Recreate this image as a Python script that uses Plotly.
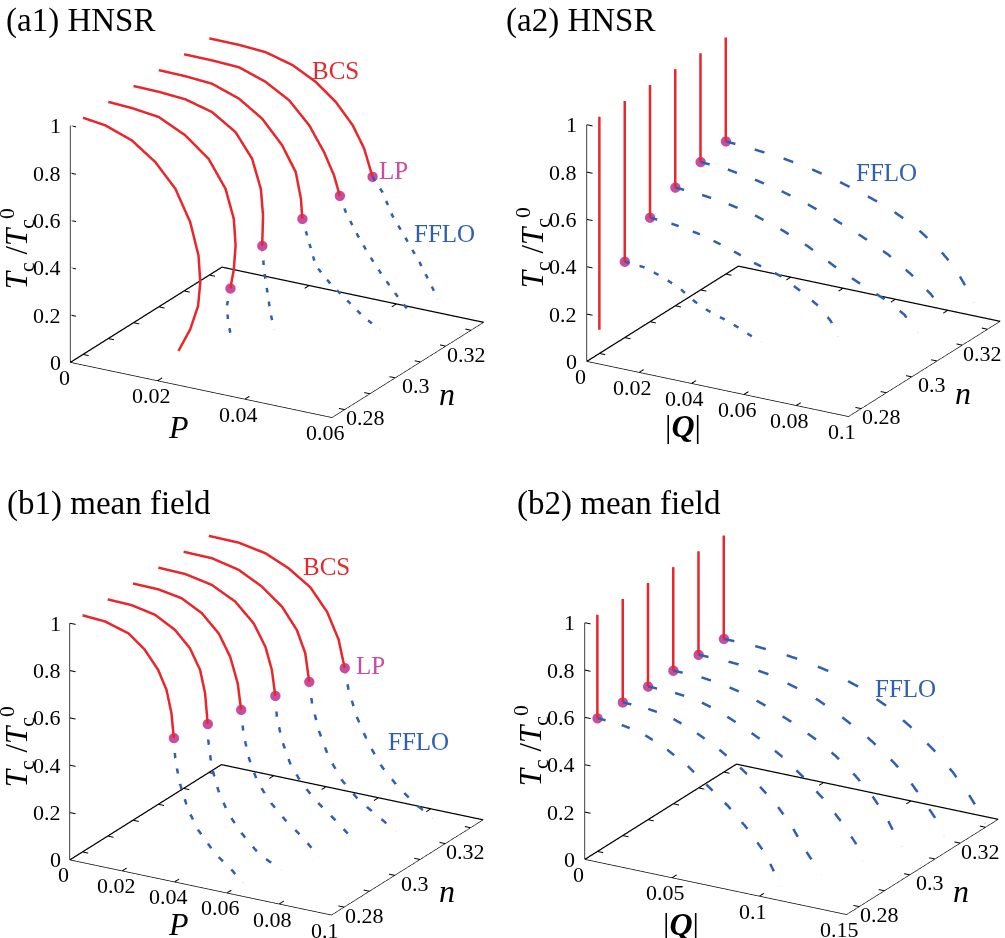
import numpy as np
import plotly.graph_objects as go

RED = '#e8262b'
BLUE = '#2f5fb0'
PINK = '#c84c9f'
SERIF = 'Liberation Serif, Times New Roman, serif'

# density of each curve, shared by all four panels
n_vals = [0.28, 0.29, 0.30, 0.31, 0.32, 0.33]
n_range = [0.275, 0.335]
n_ticks = [0.28, 0.30, 0.32]
n_ticktext = ['0.28', '0.3', '0.32']
n_minor = [0.28, 0.29, 0.30, 0.31, 0.32, 0.33]
tc_ticks = [0, 0.2, 0.4, 0.6, 0.8, 1]
tc_ticktext = ['0', '0.2', '0.4', '0.6', '0.8', '1']

# ---------------- (a1) HNSR : Tc/Tc0 vs P ----------------
a1_bcs_P = [
    [0, 0.0051, 0.0112, 0.0166, 0.0212, 0.0246, 0.0265, 0.0269, 0.0264, 0.0246, 0.0219],
    [0, 0.0054, 0.0116, 0.0177, 0.0230, 0.0269, 0.0288, 0.0292, 0.0288, 0.0280],
    [0, 0.0058, 0.0119, 0.0180, 0.0234, 0.0272, 0.0292, 0.0297, 0.0295],
    [0, 0.0061, 0.0122, 0.0184, 0.0237, 0.0283, 0.0314, 0.0326, 0.0329],
    [0, 0.0065, 0.0126, 0.0187, 0.0241, 0.0287, 0.0321, 0.0344, 0.0357],
    [0, 0.0068, 0.0129, 0.0191, 0.0244, 0.0290, 0.0329, 0.0355, 0.0374],
]
a1_bcs_T = [
    [1.0, 0.988, 0.948, 0.877, 0.782, 0.654, 0.520, 0.409, 0.308, 0.202, 0.100],
    [1.0, 0.995, 0.981, 0.927, 0.849, 0.737, 0.617, 0.506, 0.405, 0.321],
    [1.0, 0.998, 0.990, 0.960, 0.896, 0.798, 0.678, 0.567, 0.440],
    [1.0, 0.998, 0.990, 0.951, 0.887, 0.792, 0.691, 0.582, 0.500],
    [1.0, 0.999, 0.994, 0.956, 0.899, 0.811, 0.711, 0.621, 0.541],
    [1.0, 0.999, 0.992, 0.961, 0.911, 0.844, 0.760, 0.672, 0.561],
]
a1_fflo_P = [
    [],
    [0.0280, 0.0272, 0.0275, 0.0284],
    [0.0295, 0.0299, 0.0307, 0.0314, 0.0322],
    [0.0329, 0.0349, 0.0360, 0.0391, 0.0429, 0.0467, 0.0506],
    [0.0357, 0.0371, 0.0394, 0.0425, 0.0455, 0.0494, 0.0524],
    [0.0374, 0.0397, 0.0420, 0.0451, 0.0482, 0.0513, 0.0524],
]
a1_fflo_T = [
    [],
    [0.321, 0.244, 0.174, 0.100],
    [0.440, 0.342, 0.247, 0.165, 0.097],
    [0.500, 0.379, 0.313, 0.255, 0.199, 0.143, 0.101],
    [0.541, 0.476, 0.401, 0.314, 0.241, 0.157, 0.098],
    [0.561, 0.504, 0.413, 0.328, 0.241, 0.139, 0.102],
]

# ---------------- (a2) HNSR : Tc/Tc0 vs |Q| ----------------
a2_bcs_Q = [0, 0]
a2_bcs_T = [[0.100, 1.0], [0.321, 1.0], [0.440, 1.0], [0.500, 1.0], [0.541, 1.0], [0.561, 1.0]]
a2_fflo_Q = [
    [],
    [0, 0.0075, 0.0151, 0.0217, 0.0267, 0.0318, 0.0407, 0.0520],
    [0, 0.0093, 0.0195, 0.0297, 0.0399, 0.0500, 0.0576, 0.0653, 0.0691, 0.0719],
    [0, 0.0099, 0.0200, 0.0302, 0.0404, 0.0506, 0.0608, 0.0710, 0.0811, 0.0875, 0.0926],
    [0, 0.0105, 0.0206, 0.0308, 0.0410, 0.0512, 0.0614, 0.0716, 0.0805, 0.0881, 0.0932],
    [0, 0.0110, 0.0212, 0.0314, 0.0416, 0.0518, 0.0620, 0.0721, 0.0810, 0.0874, 0.0912, 0.0948],
]
a2_fflo_T = [
    [],
    [0.321, 0.314, 0.287, 0.252, 0.215, 0.188, 0.156, 0.102],
    [0.440, 0.432, 0.413, 0.381, 0.341, 0.309, 0.263, 0.210, 0.163, 0.106],
    [0.500, 0.493, 0.478, 0.454, 0.417, 0.370, 0.309, 0.256, 0.209, 0.167, 0.102],
    [0.541, 0.533, 0.515, 0.490, 0.457, 0.417, 0.371, 0.317, 0.253, 0.186, 0.120],
    [0.561, 0.552, 0.541, 0.523, 0.497, 0.464, 0.425, 0.371, 0.300, 0.232, 0.169, 0.100],
]

# ---------------- (b1) mean field : Tc/Tc0 vs P ----------------
b1_bcs_P = [
    [0, 0.0086, 0.0175, 0.0238, 0.0289, 0.0321, 0.0340, 0.0349],
    [0, 0.0091, 0.0181, 0.0257, 0.0314, 0.0353, 0.0372, 0.0382],
    [0, 0.0097, 0.0186, 0.0263, 0.0327, 0.0371, 0.0400, 0.0413],
    [0, 0.0103, 0.0204, 0.0294, 0.0364, 0.0409, 0.0434, 0.0447],
    [0, 0.0108, 0.0210, 0.0299, 0.0376, 0.0433, 0.0465, 0.0480],
    [0, 0.0114, 0.0216, 0.0305, 0.0388, 0.0452, 0.0496, 0.0519],
]
b1_bcs_T = [
    [1.0, 0.994, 0.965, 0.910, 0.837, 0.760, 0.666, 0.563],
    [1.0, 0.997, 0.977, 0.931, 0.867, 0.784, 0.690, 0.563],
    [1.0, 0.998, 0.981, 0.936, 0.866, 0.778, 0.672, 0.563],
    [1.0, 0.997, 0.975, 0.925, 0.850, 0.762, 0.669, 0.563],
    [1.0, 0.998, 0.973, 0.923, 0.856, 0.770, 0.680, 0.563],
    [1.0, 0.998, 0.977, 0.934, 0.873, 0.784, 0.677, 0.563],
]
b1_fflo_P = [
    [0.0349, 0.0355, 0.0372, 0.0404, 0.0442, 0.0506, 0.0570, 0.0614],
    [0.0382, 0.0384, 0.0397, 0.0422, 0.0460, 0.0512, 0.0576, 0.0662],
    [0.0413, 0.0422, 0.0441, 0.0473, 0.0518, 0.0582, 0.0646, 0.0712],
    [0.0447, 0.0453, 0.0472, 0.0504, 0.0548, 0.0612, 0.0676, 0.0756],
    [0.0480, 0.0491, 0.0516, 0.0554, 0.0605, 0.0669, 0.0745, 0.0812],
    [0.0519, 0.0534, 0.0565, 0.0610, 0.0661, 0.0723, 0.0786, 0.0856],
]
b1_fflo_T = [
    [0.563, 0.471, 0.377, 0.271, 0.196, 0.112, 0.057, 0.013],
    [0.563, 0.496, 0.386, 0.293, 0.203, 0.131, 0.061, 0.011],
    [0.563, 0.466, 0.371, 0.280, 0.206, 0.136, 0.080, 0.011],
    [0.563, 0.476, 0.382, 0.290, 0.216, 0.147, 0.091, 0.015],
    [0.563, 0.474, 0.367, 0.263, 0.176, 0.107, 0.054, 0.008],
    [0.563, 0.473, 0.368, 0.265, 0.179, 0.108, 0.053, 0.008],
]

# ---------------- (b2) mean field : Tc/Tc0 vs |Q| ----------------
b2_bcs_Q = [0, 0]
b2_bcs_T = [[0.563, 1.0]] * 6
b2_fflo_Q = [
    [0, 0.0116, 0.0250, 0.0384, 0.0518, 0.0633, 0.0749, 0.0863, 0.0959, 0.1016, 0.1045],
    [0, 0.0125, 0.0260, 0.0394, 0.0528, 0.0643, 0.0758, 0.0872, 0.0968, 0.1045, 0.1137],
    [0, 0.0135, 0.0269, 0.0404, 0.0537, 0.0671, 0.0786, 0.0902, 0.1016, 0.1112, 0.1189, 0.1227],
    [0, 0.0145, 0.0279, 0.0413, 0.0547, 0.0681, 0.0815, 0.0930, 0.1045, 0.1141, 0.1217, 0.1275, 0.1307],
    [0, 0.0154, 0.0288, 0.0422, 0.0557, 0.0691, 0.0825, 0.0959, 0.1074, 0.1189, 0.1284, 0.1361, 0.1409],
    [0, 0.0164, 0.0317, 0.0470, 0.0624, 0.0777, 0.0930, 0.1064, 0.1199, 0.1313, 0.1409, 0.1467, 0.1498],
]
b2_fflo_T = [
    [0.563, 0.559, 0.541, 0.499, 0.441, 0.375, 0.308, 0.227, 0.143, 0.067, 0.015],
    [0.563, 0.560, 0.546, 0.510, 0.461, 0.408, 0.346, 0.275, 0.191, 0.103, 0.013],
    [0.563, 0.561, 0.551, 0.522, 0.479, 0.430, 0.378, 0.311, 0.237, 0.160, 0.087, 0.015],
    [0.563, 0.561, 0.549, 0.527, 0.492, 0.450, 0.400, 0.347, 0.280, 0.210, 0.138, 0.062, 0.022],
    [0.563, 0.561, 0.555, 0.540, 0.511, 0.476, 0.426, 0.369, 0.310, 0.236, 0.152, 0.079, 0.016],
    [0.563, 0.561, 0.553, 0.540, 0.516, 0.479, 0.425, 0.361, 0.283, 0.203, 0.118, 0.057, 0.017],
]

# ------------- camera: orthographic view, floor seen from the front-right -------------
eye_dir = np.array([0.467, -0.806, 0.364])
eye_dir = eye_dir / np.linalg.norm(eye_dir)
right = np.cross(-eye_dir, [0, 0, 1])
right = right / np.linalg.norm(right)
upv = np.cross(right, -eye_dir)
PX_PER_UNIT = 234.5   # half the scene height is one unit in ortho mode
ASPECT = 1.29


def camera(dx, dy):
    # dx, dy: wanted pixel offset of the box centre from the domain centre
    c = (-dx * right + dy * upv) / PX_PER_UNIT
    e = c + eye_dir * 2.0
    return dict(projection=dict(type='orthographic'),
                up=dict(x=0, y=0, z=1),
                center=dict(x=c[0], y=c[1], z=c[2]),
                eye=dict(x=e[0], y=e[1], z=e[2]))


def axis(rng):
    return dict(range=rng, autorange=False, showticklabels=False, ticks='',
                title=dict(text=''),
                showgrid=False, zeroline=False, showbackground=False, showspikes=False,
                showline=True, linecolor='black', linewidth=1.5)


def text3d(x, y, z, text, color='black', size=22, xs=0, ys=0, xa='center', angle=0):
    return dict(x=x, y=y, z=z, text=text, showarrow=False, xanchor=xa, yanchor='middle',
                xshift=xs, yshift=ys, textangle=angle,
                font=dict(family=SERIF, size=size, color=color))


def tick_labels(xticks, xtext, xrange, xtitle, title_shift):
    out = []
    for v, t in zip(xticks, xtext):
        out.append(text3d(v, n_range[0], 0, t, xs=-6, ys=-15))
    for v, t in zip(n_ticks, n_ticktext):
        out.append(text3d(xrange[1], v, 0, t, xs=21, ys=-8))
    for v, t in zip(tc_ticks, tc_ticktext):
        out.append(text3d(0, n_range[0], v, t, xs=-7, xa='right'))
    mid = 0.5 * (xrange[0] + xrange[1])
    out.append(text3d(mid, n_range[0], 0, xtitle, size=32, xs=title_shift, ys=-37))
    out.append(text3d(xrange[1], 0.5 * (n_range[0] + n_range[1]), 0, '<i>n</i>', size=32, xs=40, ys=-24))
    out.append(text3d(0, n_range[0], 0.5, '<i>T</i><sub>c</sub> /<i>T</i><sub>c</sub><sup>0</sup>',
                      size=31, xs=-53, ys=-5, angle=-90))
    return out


fig = go.Figure()


def add_curves(scene, bcs_x, bcs_t, fflo_x, fflo_t, groups, vertical_bcs=False):
    for i, n in enumerate(n_vals):
        if vertical_bcs:
            bx, bt = bcs_x, bcs_t[i]
        else:
            bx, bt = bcs_x[i], bcs_t[i]
        fig.add_trace(go.Scatter3d(x=bx, y=[n] * len(bx), z=bt, mode='lines', scene=scene,
                                   line=dict(color=RED, width=5), hoverinfo='skip'))
        if len(fflo_x[i]) > 0:
            fig.add_trace(go.Scatter3d(x=[fflo_x[i][0]], y=[n], z=[fflo_t[i][0]],
                                       mode='markers', scene=scene,
                                       marker=dict(color=PINK, size=6, line=dict(width=0)),
                                       hoverinfo='skip'))
    # dashed FFLO branches; short ones share a trace so the dash pattern is not squeezed
    for g in groups:
        gx, gy, gz = [], [], []
        for i in g:
            if gx:
                gx.append(None)
                gy.append(None)
                gz.append(None)
            gx += fflo_x[i]
            gy += [n_vals[i]] * len(fflo_x[i])
            gz += fflo_t[i]
        fig.add_trace(go.Scatter3d(x=gx, y=gy, z=gz, mode='lines', scene=scene,
                                   line=dict(color=BLUE, width=5, dash='longdash'),
                                   hoverinfo='skip'))


def add_frame(scene, xmax, xticks):
    # back edges of the floor (kept a hair inside the box) and small tick marks
    eps = 1e-5
    fig.add_trace(go.Scatter3d(x=[eps, eps, xmax - eps], y=[n_range[0], n_range[1] - eps, n_range[1] - eps],
                               z=[0, 0, 0], mode='lines', scene=scene,
                               line=dict(color='black', width=2.5), hoverinfo='skip'))
    tl_x = 0.022 * xmax
    tl_n = 0.03 * (n_range[1] - n_range[0])
    tx, ty, tz = [], [], []
    for v in n_minor:
        tx += [eps, tl_x, None, xmax - eps, xmax - tl_x, None]
        ty += [v, v, None, v, v, None]
        tz += [0, 0, None, 0, 0, None]
    for v in xticks[1:-1]:
        tx += [v, v, None, v, v, None]
        ty += [n_range[0], n_range[0] + tl_n, None, n_range[1] - eps, n_range[1] - tl_n, None]
        tz += [0, 0, None, 0, 0, None]
    for v in tc_ticks[1:]:
        tx += [eps, tl_x, None]
        ty += [n_range[0], n_range[0], None]
        tz += [v, v, None]
    fig.add_trace(go.Scatter3d(x=tx, y=ty, z=tz, mode='lines', scene=scene,
                               line=dict(color='black', width=2), hoverinfo='skip'))


a1_xticks = [0, 0.02, 0.04, 0.06]
a2_xticks = [0, 0.02, 0.04, 0.06, 0.08, 0.1]
b1_xticks = [0, 0.02, 0.04, 0.06, 0.08, 0.1]
b2_xticks = [0, 0.05, 0.1, 0.15]
single = [[1], [2], [3], [4], [5]]

add_curves('scene', a1_bcs_P, a1_bcs_T, a1_fflo_P, a1_fflo_T, [[1, 2], [3], [4], [5]])
add_frame('scene', 0.06, a1_xticks)
add_curves('scene2', a2_bcs_Q, a2_bcs_T, a2_fflo_Q, a2_fflo_T, single, vertical_bcs=True)
add_frame('scene2', 0.1, a2_xticks)
add_curves('scene3', b1_bcs_P, b1_bcs_T, b1_fflo_P, b1_fflo_T, [[0]] + single)
add_frame('scene3', 0.1, b1_xticks)
add_curves('scene4', b2_bcs_Q, b2_bcs_T, b2_fflo_Q, b2_fflo_T, [[0]] + single, vertical_bcs=True)
add_frame('scene4', 0.15, b2_xticks)

q_title = '|<b><i>Q</i></b>|'


def scene(dom_x, dom_y, xrange, xticks, xtitle, title_shift, dx, dy, labels):
    xtext = ['%g' % v for v in xticks]
    return dict(domain=dict(x=dom_x, y=dom_y),
                xaxis=axis(xrange), yaxis=axis(n_range), zaxis=axis([0, 1]),
                aspectmode='manual', aspectratio=dict(x=ASPECT, y=ASPECT, z=0.84 * ASPECT),
                camera=camera(dx, dy), bgcolor='rgba(0,0,0,0)',
                annotations=tick_labels(xticks, xtext, xrange, xtitle, title_shift) + labels)


def panel_title(x, y, text):
    return dict(x=x, y=y, xref='paper', yref='paper', xanchor='left', yanchor='top',
                text=text, showarrow=False, font=dict(family=SERIF, size=33, color='black'))


fig.update_layout(
    width=1005, height=938, margin=dict(l=0, r=0, t=0, b=0),
    paper_bgcolor='white', showlegend=False, hovermode=False,
    scene=scene([0, 0.5], [0.5, 1], [0, 0.06], a1_xticks, '<i>P</i>', -22, 25.5, -10.5,
                [text3d(0.029, 0.33, 0.978, 'BCS', RED, 25), text3d(0.0424, 0.33, 0.606, 'LP', PINK, 25),
                 text3d(0.0539, 0.33, 0.383, 'FFLO', BLUE, 25)]),
    scene2=scene([0.5, 1], [0.5, 1], [0, 0.1], a2_xticks, q_title, -34, 39, -11.5,
                 [text3d(0.0619, 0.33, 0.573, 'FFLO', BLUE, 25)]),
    scene3=scene([0, 0.5], [0, 0.5], [0, 0.1], b1_xticks, '<i>P</i>', -22, 25, 18,
                 [text3d(0.0452, 0.33, 0.975, 'BCS', RED, 25), text3d(0.0621, 0.33, 0.599, 'LP', PINK, 25),
                  text3d(0.0802, 0.33, 0.318, 'FFLO', BLUE, 25)]),
    scene4=scene([0.5, 1], [0, 0.5], [0, 0.15], b2_xticks, q_title, -34, 37, 17.5,
                 [text3d(0.1045, 0.33, 0.514, 'FFLO', BLUE, 25)]),
    annotations=[
        panel_title(0.004, 1.0, '(a1) HNSR'),
        panel_title(0.501, 1.0, '(a2) HNSR'),
        panel_title(0.005, 0.485, '(b1) mean field'),
        panel_title(0.512, 0.485, '(b2) mean field'),
    ],
)

# the page body has a default 8px margin; drop it so the figure sits at the window corner
fig.write_html('out.html', config={'displayModeBar': False},
               post_script="document.body.style.margin='0px';")
